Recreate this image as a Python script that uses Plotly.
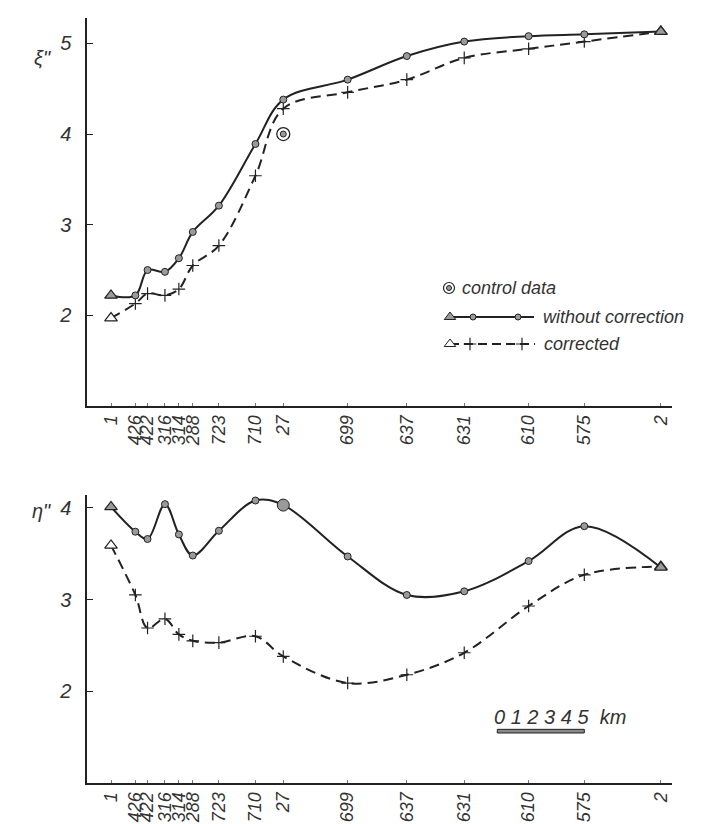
import plotly.graph_objects as go

# ---- data ----
stations = ["1", "426", "422", "316", "314", "288", "723", "710", "27",
            "699", "637", "631", "610", "575", "2"]
dist_km = [0.0, 1.4, 2.1, 3.1, 3.9, 4.7, 6.2, 8.3, 9.9,
           13.6, 17.0, 20.3, 24.0, 27.2, 31.6]

xi_uncorr = [2.22, 2.22, 2.50, 2.48, 2.63, 2.92, 3.21, 3.89, 4.38,
             4.60, 4.86, 5.02, 5.08, 5.10, 5.13]
xi_corr = [1.97, 2.13, 2.24, 2.22, 2.29, 2.55, 2.77, 3.54, 4.28,
           4.46, 4.60, 4.84, 4.94, 5.02, 5.13]
xi_control_x = [9.9]
xi_control_y = [4.00]

eta_uncorr = [4.01, 3.74, 3.66, 4.04, 3.71, 3.48, 3.75, 4.08, 4.03,
              3.47, 3.05, 3.09, 3.42, 3.80, 3.35]
eta_corr = [3.59, 3.05, 2.69, 2.79, 2.62, 2.55, 2.53, 2.60, 2.38,
            2.09, 2.18, 2.42, 2.93, 3.27, 3.36]
eta_control_x = [9.9]
eta_control_y = [4.03]

yticks = [2, 3, 4, 5]

INK = "#222222"
TXT = "#333333"
GREY = "#9a9a9a"
FONT = "Liberation Sans, Arial"

fig = go.Figure()


def add_panel(xa, ya, unc, cor, cx, cy, big_ctrl):
    # corrected (dashed)
    fig.add_trace(go.Scatter(
        x=dist_km, y=cor, xaxis=xa, yaxis=ya, mode="lines",
        line=dict(color=INK, width=2, dash="10px,6px", shape="spline", smoothing=1.0),
        hoverinfo="skip", showlegend=False))
    fig.add_trace(go.Scatter(
        x=dist_km[1:-1], y=cor[1:-1], xaxis=xa, yaxis=ya, mode="markers",
        marker=dict(symbol="cross-thin", size=9, color=INK, line=dict(color=INK, width=1.2)),
        hoverinfo="skip", showlegend=False))
    fig.add_trace(go.Scatter(
        x=[dist_km[0], dist_km[-1]], y=[cor[0], cor[-1]], xaxis=xa, yaxis=ya, mode="markers",
        marker=dict(symbol="triangle-up", size=11, color="white", line=dict(color=INK, width=1.2)),
        hoverinfo="skip", showlegend=False))
    # without correction (solid)
    fig.add_trace(go.Scatter(
        x=dist_km, y=unc, xaxis=xa, yaxis=ya, mode="lines",
        line=dict(color=INK, width=2, shape="spline", smoothing=1.0),
        hoverinfo="skip", showlegend=False))
    fig.add_trace(go.Scatter(
        x=dist_km[1:-1], y=unc[1:-1], xaxis=xa, yaxis=ya, mode="markers",
        marker=dict(symbol="circle", size=7, color=GREY, line=dict(color=INK, width=1)),
        hoverinfo="skip", showlegend=False))
    fig.add_trace(go.Scatter(
        x=[dist_km[0], dist_km[-1]], y=[unc[0], unc[-1]], xaxis=xa, yaxis=ya, mode="markers",
        marker=dict(symbol="triangle-up", size=11, color=GREY, line=dict(color=INK, width=1.2)),
        hoverinfo="skip", showlegend=False))
    # control data
    if big_ctrl:
        fig.add_trace(go.Scatter(
            x=cx, y=cy, xaxis=xa, yaxis=ya, mode="markers",
            marker=dict(symbol="circle", size=12, color=GREY, line=dict(color=INK, width=1)),
            hoverinfo="skip", showlegend=False))
    else:
        fig.add_trace(go.Scatter(
            x=cx, y=cy, xaxis=xa, yaxis=ya, mode="markers",
            marker=dict(symbol="circle-open", size=13, color=INK, line=dict(color=INK, width=1.3)),
            hoverinfo="skip", showlegend=False))
        fig.add_trace(go.Scatter(
            x=cx, y=cy, xaxis=xa, yaxis=ya, mode="markers",
            marker=dict(symbol="circle", size=6, color=GREY, line=dict(color=INK, width=1)),
            hoverinfo="skip", showlegend=False))


add_panel("x", "y", xi_uncorr, xi_corr, xi_control_x, xi_control_y, False)
add_panel("x2", "y2", eta_uncorr, eta_corr, eta_control_x, eta_control_y, True)

W, H = 706, 824
xdom = [79 / W, 664 / W]
xr = [-1.38, 32.24]

xcommon = dict(range=xr, tickmode="array", tickvals=dist_km, ticktext=stations,
               tickangle=-90, ticks="inside", ticklen=3, tickcolor="#777",
               showline=True, linecolor=INK, linewidth=2, showgrid=False, zeroline=False,
               tickfont=dict(family=FONT, size=18, color=TXT, style="italic"))
ycommon = dict(tickmode="array", tickvals=yticks, ticks="inside", ticklen=6,
               tickcolor=INK, showline=True, linecolor=INK, linewidth=1.5,
               showgrid=False, zeroline=False, ticklabelstandoff=10,
               tickfont=dict(family=FONT, size=20, color=TXT, style="italic"))

fig.update_layout(
    width=W, height=H, margin=dict(l=0, r=0, t=0, b=0),
    paper_bgcolor="white", plot_bgcolor="rgba(0,0,0,0)",
    xaxis=dict(domain=xdom, anchor="y", **xcommon),
    yaxis=dict(domain=[1 - 398 / H, 1 - 10 / H], anchor="x", range=[1.0, 5.28], **ycommon),
    xaxis2=dict(domain=xdom, anchor="y2", **xcommon),
    yaxis2=dict(domain=[1 - 775 / H, 1 - 487 / H], anchor="x2", range=[1.0, 4.14], **ycommon),
    xaxis3=dict(domain=[0, 1], range=[0, W], visible=False, anchor="y3"),
    yaxis3=dict(domain=[0, 1], range=[H, 0], visible=False, anchor="x3"),
    showlegend=False,
)

# ---- legend (drawn in a pixel overlay) ----
leg_font = dict(family=FONT, size=18, color=TXT, style="italic")
ly = [280, 309, 336]
fig.add_trace(go.Scatter(x=[441], y=[ly[0]], xaxis="x3", yaxis="y3", mode="markers",
                         marker=dict(symbol="circle-open", size=11, color=INK,
                                     line=dict(color=INK, width=1.2)),
                         hoverinfo="skip", showlegend=False))
fig.add_trace(go.Scatter(x=[441], y=[ly[0]], xaxis="x3", yaxis="y3", mode="markers",
                         marker=dict(symbol="circle", size=5, color=GREY, line=dict(color=INK, width=1)),
                         hoverinfo="skip", showlegend=False))
fig.add_trace(go.Scatter(x=[442, 526], y=[ly[1], ly[1]], xaxis="x3", yaxis="y3", mode="lines",
                         line=dict(color=INK, width=2), hoverinfo="skip", showlegend=False))
fig.add_trace(go.Scatter(x=[465, 510], y=[ly[1], ly[1]], xaxis="x3", yaxis="y3", mode="markers",
                         marker=dict(symbol="circle", size=6, color=GREY, line=dict(color=INK, width=1)),
                         hoverinfo="skip", showlegend=False))
fig.add_trace(go.Scatter(x=[442], y=[ly[1]], xaxis="x3", yaxis="y3", mode="markers",
                         marker=dict(symbol="triangle-up", size=10, color=GREY, line=dict(color=INK, width=1)),
                         hoverinfo="skip", showlegend=False))
fig.add_trace(go.Scatter(x=[442, 527], y=[ly[2], ly[2]], xaxis="x3", yaxis="y3", mode="lines",
                         line=dict(color=INK, width=2, dash="9px,5px"), hoverinfo="skip", showlegend=False))
fig.add_trace(go.Scatter(x=[462, 514], y=[ly[2], ly[2]], xaxis="x3", yaxis="y3", mode="markers",
                         marker=dict(symbol="cross-thin", size=9, color=INK, line=dict(color=INK, width=1.2)),
                         hoverinfo="skip", showlegend=False))
fig.add_trace(go.Scatter(x=[442], y=[ly[2]], xaxis="x3", yaxis="y3", mode="markers",
                         marker=dict(symbol="triangle-up", size=10, color="white", line=dict(color=INK, width=1)),
                         hoverinfo="skip", showlegend=False))

annots = [
    dict(x=452, y=ly[0], text="control data"),
    dict(x=533, y=ly[1], text="without correction"),
    dict(x=534, y=ly[2], text="corrected"),
]
for a in annots:
    fig.add_annotation(x=a["x"] / W, y=1 - a["y"] / H, xref="paper", yref="paper", text=a["text"],
                       showarrow=False, xanchor="left", yanchor="middle", font=leg_font)

# axis titles
fig.add_annotation(x=24 / W, y=1 - 37 / H, xref="paper", yref="paper", text="ξ\"",
                   showarrow=False, font=dict(family=FONT, size=20, color=TXT, style="italic"))
fig.add_annotation(x=22 / W, y=1 - 503 / H, xref="paper", yref="paper", text="η\"",
                   showarrow=False, font=dict(family=FONT, size=20, color=TXT, style="italic"))

# ---- scale bar (in km on the lower panel) ----
sb0, sb1 = 22.2, 27.2
fig.add_shape(type="rect", xref="x2", yref="y2", x0=sb0, x1=sb1, y0=1.545, y1=1.585,
              fillcolor="#888", line=dict(color=INK, width=1))
fig.add_annotation(x=sb0 - 0.3, y=1.72, xref="x2", yref="y2", text="0 1 2 3 4 5  km",
                   showarrow=False, xanchor="left", yanchor="middle",
                   font=dict(family=FONT, size=20, color=TXT, style="italic"))

fig.write_html("out.html")
